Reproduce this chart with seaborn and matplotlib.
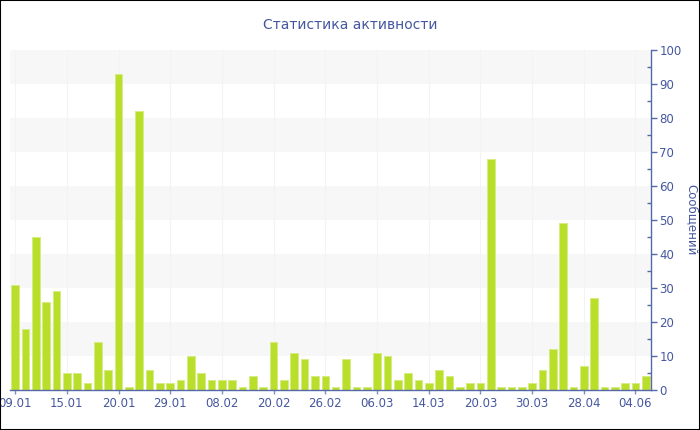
import matplotlib
matplotlib.use('Agg')
import matplotlib.pyplot as plt
import seaborn as sns
import pandas as pd
from matplotlib.patches import Rectangle
from matplotlib.ticker import MultipleLocator

values = [31, 18, 45, 26, 29, 5, 5, 2, 14, 6,
          93, 1, 82, 6, 2, 2, 3, 10, 5, 3,
          3, 3, 1, 4, 1, 14, 3, 11, 9, 4,
          4, 1, 9, 1, 1, 11, 10, 3, 5, 3,
          2, 6, 4, 1, 2, 2, 68, 1, 1, 1,
          2, 6, 12, 49, 1, 7, 27, 1, 1, 2,
          2, 4]
tick_labels = ['09.01', '15.01', '20.01', '29.01', '08.02', '20.02', '26.02',
               '06.03', '14.03', '20.03', '30.03', '28.04', '04.06']
tick_step = 5

title = 'Статистика активности'
ylabel = 'Сообщений'

text_color = '#4557a0'
axis_color = '#5468aa'
bar_color = '#b9df2b'

sns.set_theme(style='white')
plt.rcParams['font.family'] = ['DejaVu Sans']

df = pd.DataFrame({'idx': list(range(len(values))), 'count': values})

fig = plt.figure(figsize=(7, 4.3), dpi=100)
ax = fig.add_axes([10 / 700, 40 / 430, 641 / 700, 340 / 430])

# alternating horizontal bands
for lo in range(10, 100, 20):
    ax.axhspan(lo, lo + 10, color='#f7f7f7', zorder=0, lw=0)

tick_pos = list(range(0, len(values), tick_step))
for p in tick_pos:
    ax.axvline(p, color='#f3f3f3', lw=0.8, zorder=0.5)

sns.barplot(data=df, x='idx', y='count', color=bar_color, width=0.74,
            edgecolor='#d5ec85', linewidth=0.7, saturation=1, ax=ax, zorder=2)

ax.set_xlim(-0.5, len(values) - 0.5)
ax.set_ylim(0, 100)
ax.set_xticks(tick_pos)
ax.set_xticklabels(tick_labels)
ax.set_xlabel('')

ax.yaxis.tick_right()
ax.yaxis.set_label_position('right')
ax.yaxis.set_major_locator(MultipleLocator(10))
ax.yaxis.set_minor_locator(MultipleLocator(5))
ax.set_ylabel(ylabel, rotation=270, color=text_color, fontsize=8.5, labelpad=12)

for side in ['top', 'left']:
    ax.spines[side].set_visible(False)
for side in ['bottom', 'right']:
    ax.spines[side].set_color(axis_color)
    ax.spines[side].set_linewidth(1)

ax.tick_params(axis='y', which='major', direction='out', length=4, width=1,
               color=axis_color, labelcolor=text_color, labelsize=8.5, pad=2,
               right=True, left=False)
ax.tick_params(axis='y', which='minor', direction='in', length=3, width=1,
               color=axis_color, right=True, left=False)
ax.tick_params(axis='x', direction='out', length=3, width=1, color='#8090b8',
               labelcolor=text_color, labelsize=8.5, pad=2, bottom=True)

fig.text(0.5, 1 - 25 / 430, title, ha='center', va='center',
         color=text_color, fontsize=10)

fig.patches.append(Rectangle((0, 0), 1, 1, transform=fig.transFigure,
                             fill=False, edgecolor='black', linewidth=1.5))

fig.savefig('out.png', dpi=100)
